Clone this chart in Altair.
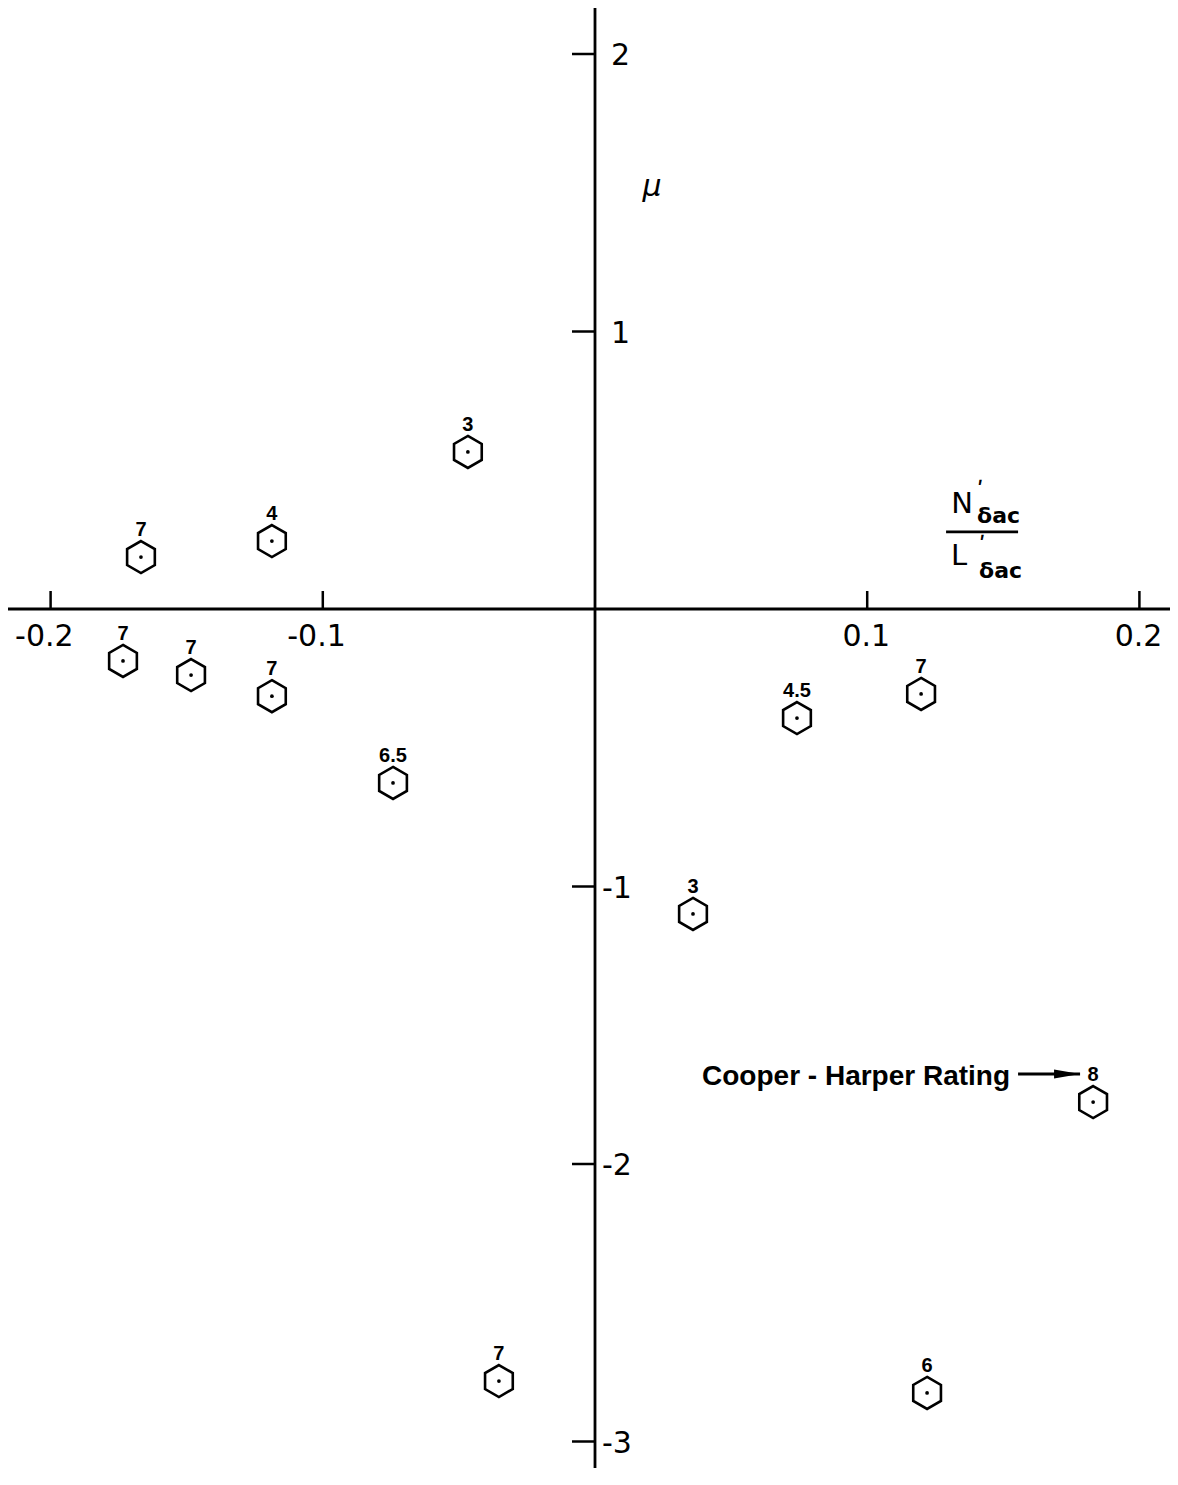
import altair as alt
import pandas as pd

# ---- data ----
pt_x = [-0.1668, -0.1187, -0.0467, -0.1734, -0.1484, -0.1187, -0.0742,
        0.0742, 0.1198, 0.0360, 0.1830, -0.0353, 0.1220]
pt_y = [0.187, 0.245, 0.566, -0.187, -0.238, -0.314, -0.627,
        -0.393, -0.306, -1.099, -1.777, -2.782, -2.825]
ratings = ["7", "4", "3", "7", "7", "7", "6.5", "4.5", "7", "3", "8", "7", "6"]

x_ticks = [-0.2, -0.1, 0.1, 0.2]
x_tick_labels = ["-0.2", "-0.1", "0.1", "0.2"]
y_ticks = [2, 1, -1, -2, -3]
y_tick_labels = ["2", "1", "-1", "-2", "-3"]

# annotation anchors (data coordinates)
mu_pos = [0.021, 1.52]
frac_pos = [0.1422, 0.278]
arrow_tip = [0.1782, -1.676]

# ---- layout ----
W, H = 1162, 1460
XMIN, XMAX = -0.21565, 0.21124
YMIN, YMAX = -3.09549, 2.16577

xs = alt.Scale(domain=[XMIN, XMAX], nice=False, zero=False)
ys = alt.Scale(domain=[YMIN, YMAX], nice=False, zero=False)


def X(f="x"):
    return alt.X(f"{f}:Q", scale=xs, axis=None)


def Y(f="y"):
    return alt.Y(f"{f}:Q", scale=ys, axis=None)


pts = pd.DataFrame({"x": pt_x, "y": pt_y, "r": ratings})
xt = pd.DataFrame({"x": x_ticks, "y": [0] * len(x_ticks), "t": x_tick_labels})
yt = pd.DataFrame({"x": [0] * len(y_ticks), "y": y_ticks, "t": y_tick_labels})

# axes lines
x_axis = alt.Chart(pd.DataFrame({"y": [0]})).mark_rule(color="black", strokeWidth=2.8).encode(y=Y())
y_axis = alt.Chart(pd.DataFrame({"x": [0]})).mark_rule(color="black", strokeWidth=2.8).encode(x=X())

x_tick_marks = alt.Chart(xt).mark_tick(orient="vertical", size=18, thickness=2.5,
                                       color="black", yOffset=-9, opacity=1).encode(x=X(), y=Y())
y_tick_marks = alt.Chart(yt).mark_tick(orient="horizontal", size=23, thickness=2.5,
                                       color="black", xOffset=-11.5, opacity=1).encode(x=X(), y=Y())

x_tick_text = alt.Chart(xt).mark_text(align="right", baseline="alphabetic", dx=23, dy=37,
                                      font="DejaVu Sans", fontSize=30, color="black").encode(
    x=X(), y=Y(), text="t:N")
y_tick_text_pos = alt.Chart(yt).transform_filter("datum.y > 0").mark_text(
    align="left", baseline="middle", dx=16, dy=2, font="DejaVu Sans", fontSize=30, color="black").encode(
    x=X(), y=Y(), text="t:N")
y_tick_text_neg = alt.Chart(yt).transform_filter("datum.y < 0").mark_text(
    align="left", baseline="middle", dx=7, dy=2, font="DejaVu Sans", fontSize=30, color="black").encode(
    x=X(), y=Y(), text="t:N")

HEX = "M0,-1 L0.866,-0.5 L0.866,0.5 L0,1 L-0.866,0.5 L-0.866,-0.5 Z"
hexes = alt.Chart(pts).mark_point(shape=HEX, size=1024, filled=False, stroke="black",
                                  strokeWidth=2.6, opacity=1).encode(x=X(), y=Y())
dots = alt.Chart(pts).mark_point(shape="circle", size=14, filled=True, color="black",
                                 opacity=1).encode(x=X(), y=Y())
rating_text = alt.Chart(pts).mark_text(align="center", baseline="alphabetic", dy=-21,
                                       font="Liberation Sans", fontWeight="bold", fontSize=20,
                                       color="black").encode(x=X(), y=Y(), text="r:N")

mu = alt.Chart(pd.DataFrame({"x": [mu_pos[0]], "y": [mu_pos[1]], "t": ["μ"]})).mark_text(
    align="center", baseline="middle", font="DejaVu Sans", fontStyle="italic", fontSize=30,
    color="black").encode(x=X(), y=Y(), text="t:N")

# fraction label N'δac / L'δac
fdf = pd.DataFrame({"x": [frac_pos[0]], "y": [frac_pos[1]]})


def ftxt(t, dx, dy, size, align="center", weight="normal", line_height=None):
    kw = dict(text=t, align=align, baseline="alphabetic", dx=dx, dy=dy,
              font="DejaVu Sans", fontSize=size, fontWeight=weight, color="black")
    if line_height is not None:
        kw["lineHeight"] = line_height
    return alt.Chart(fdf).mark_text(**kw).encode(x=X(), y=Y())


frac_line = alt.Chart(fdf).mark_tick(orient="horizontal", size=72, thickness=2.6,
                                     color="black", opacity=1).encode(x=X(), y=Y())
frac = [
    frac_line,
    ftxt("N", -20, -19, 29),
    ftxt(["ʹ", "δac"], -5, -35, 22, align="left", weight="bold", line_height=26),
    ftxt("L", -23, 33, 29),
    ftxt(["ʹ", "δac"], -3, 20, 22, align="left", weight="bold", line_height=26),
]

# Cooper-Harper annotation
adf = pd.DataFrame({"x": [arrow_tip[0]], "y": [arrow_tip[1]], "t": ["Cooper - Harper Rating"]})
ch_text = alt.Chart(adf).mark_text(align="right", baseline="alphabetic", dx=-70, dy=11,
                                   font="Liberation Sans", fontWeight="bold", fontSize=28,
                                   color="black").encode(x=X(), y=Y(), text="t:N")
shaft = alt.Chart(adf).mark_tick(orient="horizontal", size=62, thickness=3, color="black",
                                 xOffset=-31, opacity=1).encode(x=X(), y=Y())
head = alt.Chart(adf).mark_point(shape="M0,0 L-2.6,-0.45 L-2.6,0.45 Z", size=400, filled=True,
                                 color="black", opacity=1).encode(x=X(), y=Y())

chart = alt.layer(
    x_axis, y_axis, x_tick_marks, y_tick_marks, x_tick_text, y_tick_text_pos, y_tick_text_neg,
    hexes, dots, rating_text, mu, *frac, ch_text, shaft, head
).properties(
    width=W, height=H, padding=0, autosize="none", background="white"
).configure_view(stroke=None)

chart.save("out.html", embed_options={"renderer": "svg", "actions": False})
